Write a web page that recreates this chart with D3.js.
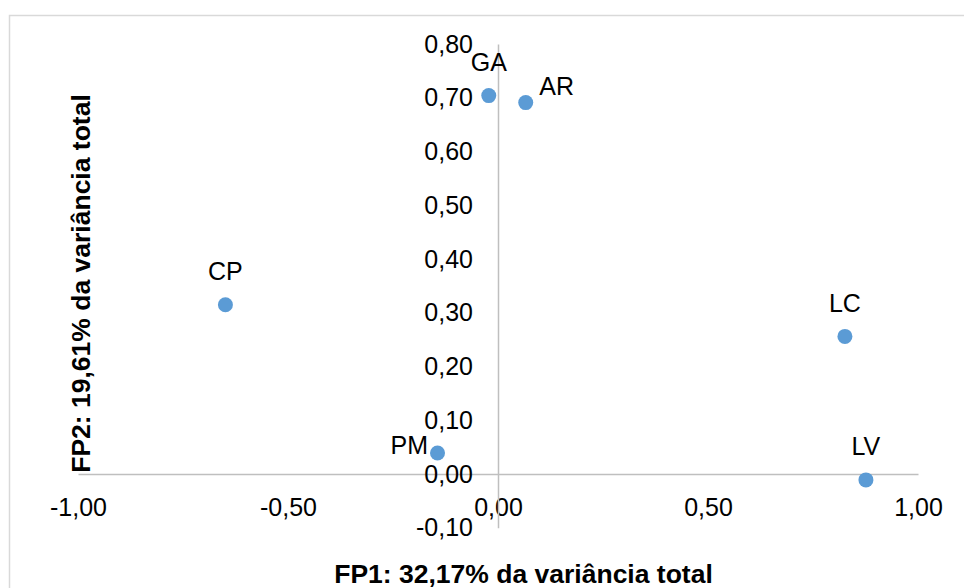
<!DOCTYPE html>
<html>
<head>
<meta charset="utf-8">
<script src="https://cdn.jsdelivr.net/npm/d3@7"></script>
<style>
  html, body { margin: 0; padding: 0; background: #fff; }
  svg { display: block; font-family: "Liberation Sans", Arial, sans-serif; }
</style>
</head>
<body>
<svg id="chart" width="964" height="588"></svg>
<script>
'use strict';

// data
const labels = ['GA', 'AR', 'CP', 'LC', 'PM', 'LV'];
const fp1Values = [-0.022, 0.066, -0.649, 0.826, -0.144, 0.876];
const fp2Values = [0.704, 0.691, 0.315, 0.256, 0.039, -0.011];
const labelSides = ['above', 'aboveRight', 'above', 'above', 'left', 'above'];
const xTicks = [-1, -0.5, 0, 0.5, 1];
const yTicks = [-0.1, 0, 0.1, 0.2, 0.3, 0.4, 0.5, 0.6, 0.7, 0.8];
const xTitle = 'FP1: 32,17% da variância total';
const yTitle = 'FP2: 19,61% da variância total';

const svg = d3.select('#chart'),
  width = +svg.attr('width'),
  height = +svg.attr('height');

const locale = d3.formatLocale({
  decimal: ',', thousands: '.', grouping: [3], currency: ['', ''], minus: '-'
});
const fmt = locale.format('.2f');

const x = d3.scaleLinear().domain([-1, 1]).range([78, 918]);
const y = d3.scaleLinear().domain([-0.1, 0.8]).range([527.75, 44]);

// chart border
svg.append('rect')
  .attr('x', 9.5).attr('y', 15.5)
  .attr('width', width + 20).attr('height', height + 20)
  .attr('fill', '#fff')
  .attr('stroke', '#d9d9d9')
  .attr('stroke-width', 1.5);

const axisColor = '#bfbfbf';

// x axis through y = 0
const gx = svg.append('g')
  .attr('transform', `translate(0,${y(0)})`)
  .call(d3.axisBottom(x).tickValues(xTicks).tickFormat(fmt)
    .tickSizeInner(0).tickSizeOuter(0).tickPadding(24));

// y axis through x = 0
const gy = svg.append('g')
  .attr('transform', `translate(${x(0)},0)`)
  .call(d3.axisLeft(y).tickValues(yTicks).tickFormat(fmt)
    .tickSizeInner(0).tickSizeOuter(0).tickPadding(25));

[gx, gy].forEach(g => {
  g.select('.domain').attr('stroke', axisColor).attr('stroke-width', 1.5);
  g.selectAll('.tick line').remove();
  g.selectAll('.tick text')
    .attr('fill', '#000')
    .style('font-size', '25px')
    .style('font-family', '"Liberation Sans", Arial, sans-serif');
});

// points
const points = labels.map((name, i) => ({
  name: name, fp1: fp1Values[i], fp2: fp2Values[i], side: labelSides[i]
}));

svg.append('g').selectAll('circle')
  .data(points)
  .join('circle')
  .attr('cx', d => x(d.fp1))
  .attr('cy', d => y(d.fp2))
  .attr('r', 7.5)
  .attr('fill', '#5b9bd5');

// data labels
const offsets = {
  above: { dx: 0, dy: -24.5, anchor: 'middle' },
  aboveRight: { dx: 13.5, dy: -7.5, anchor: 'start' },
  left: { dx: -9.5, dy: 0.5, anchor: 'end' }
};

svg.append('g').selectAll('text')
  .data(points)
  .join('text')
  .attr('x', d => x(d.fp1) + offsets[d.side].dx)
  .attr('y', d => y(d.fp2) + offsets[d.side].dy)
  .attr('text-anchor', d => offsets[d.side].anchor)
  .style('font-size', '25px')
  .attr('fill', '#000')
  .text(d => d.name);

// axis titles
svg.append('text')
  .attr('x', 523.5)
  .attr('y', 583)
  .attr('text-anchor', 'middle')
  .style('font-size', '26.5px')
  .style('font-weight', 'bold')
  .text(xTitle);

svg.append('text')
  .attr('transform', 'translate(90,283.5) rotate(-90)')
  .attr('text-anchor', 'middle')
  .style('font-size', '26.5px')
  .style('font-weight', 'bold')
  .text(yTitle);
</script>
</body>
</html>
